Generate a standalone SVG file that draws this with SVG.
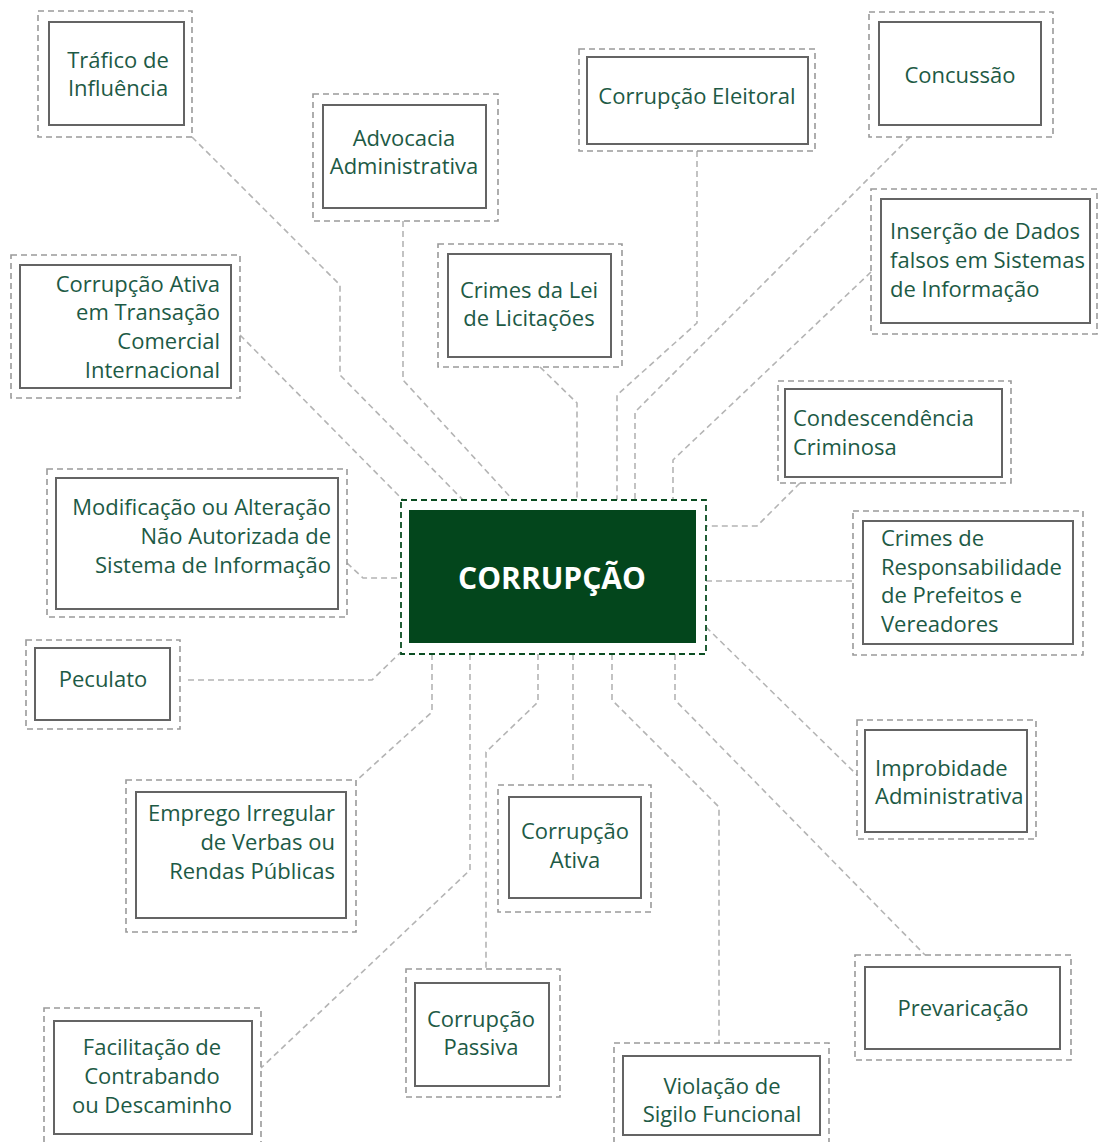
<svg xmlns="http://www.w3.org/2000/svg" width="1098" height="1142" viewBox="0 0 1098 1142">
<style>
.o{fill:none;stroke:#9a9a9a;stroke-width:1.6;stroke-dasharray:6 4}
.i{fill:#fff;stroke:#646464;stroke-width:2}
.t{font-family:"Open Sans","Noto Sans",sans-serif;font-size:22px;fill:#1d5a45}
.c{text-anchor:middle}
.r{text-anchor:end}
.l{fill:none;stroke:#b4b4b4;stroke-width:1.6;stroke-dasharray:6 4}
</style>
<rect width="1098" height="1142" fill="#fff"/>
<g id="connectors">
<polyline class="l" points="192,137 340,285 340,375 463,500"/>
<polyline class="l" points="240,335 403,500"/>
<polyline class="l" points="403,221 403,380 513,500"/>
<polyline class="l" points="540,367 577,403 577,500"/>
<polyline class="l" points="697,151 697,323 617,395 617,500"/>
<polyline class="l" points="910,137 635,412 635,500"/>
<polyline class="l" points="871,272 673,460 673,500"/>
<polyline class="l" points="800,483 757,526 706,526"/>
<polyline class="l" points="706,581 853,581"/>
<polyline class="l" points="347,563 363,578 401,578"/>
<polyline class="l" points="188,680 372,680 401,652"/>
<polyline class="l" points="432,654 432,712 357,780"/>
<polyline class="l" points="470,654 470,870 261,1068"/>
<polyline class="l" points="538,654 538,702 486,752 486,969"/>
<polyline class="l" points="573,654 573,785"/>
<polyline class="l" points="612,654 612,700 719,807 719,1043"/>
<polyline class="l" points="675,654 675,700 925,955"/>
<polyline class="l" points="706,627 857,775"/>
</g>
<g id="center">
<rect x="401" y="500" width="305" height="154" fill="#fff" stroke="#0b4d22" stroke-width="1.8" stroke-dasharray="6 4"/>
<rect x="409" y="510" width="287" height="133" fill="#03461c"/>
<text x="552" y="589" text-anchor="middle" font-family="'Open Sans','Noto Sans',sans-serif" font-size="30" font-weight="bold" fill="#fff">CORRUPÇÃO</text>
</g>
<g id="trafico">
<rect class="o" x="38" y="11" width="154" height="126"/>
<rect class="i" x="49" y="22" width="135" height="103"/>
<text class="t c" x="118" y="68">Tráfico de</text>
<text class="t c" x="118" y="96">Influência</text>
</g>
<g id="advocacia">
<rect class="o" x="313" y="94" width="185" height="127"/>
<rect class="i" x="323" y="105" width="163" height="103"/>
<text class="t c" x="404" y="146">Advocacia</text>
<text class="t c" x="404" y="174">Administrativa</text>
</g>
<g id="licitacoes">
<rect class="o" x="438" y="244" width="184" height="123"/>
<rect class="i" x="448" y="254" width="163" height="103"/>
<text class="t c" x="529" y="298">Crimes da Lei</text>
<text class="t c" x="529" y="326">de Licitações</text>
</g>
<g id="eleitoral">
<rect class="o" x="579" y="49" width="236" height="102"/>
<rect class="i" x="587" y="57" width="221" height="87"/>
<text class="t c" x="697" y="104">Corrupção Eleitoral</text>
</g>
<g id="concussao">
<rect class="o" x="869" y="12" width="184" height="125"/>
<rect class="i" x="879" y="22" width="162" height="103"/>
<text class="t c" x="960" y="83">Concussão</text>
</g>
<g id="insercao">
<rect class="o" x="871" y="189" width="226" height="145"/>
<rect class="i" x="881" y="199" width="209" height="124"/>
<text class="t" x="890" y="239">Inserção de Dados</text>
<text class="t" x="890" y="268">falsos em Sistemas</text>
<text class="t" x="890" y="297">de Informação</text>
</g>
<g id="transacao">
<rect class="o" x="11" y="255" width="229" height="143"/>
<rect class="i" x="20" y="265" width="211" height="123"/>
<text class="t r" x="220" y="292">Corrupção Ativa</text>
<text class="t r" x="220" y="320">em Transação</text>
<text class="t r" x="220" y="349">Comercial</text>
<text class="t r" x="220" y="378">Internacional</text>
</g>
<g id="modificacao">
<rect class="o" x="47" y="469" width="300" height="148"/>
<rect class="i" x="56" y="478" width="282" height="131"/>
<text class="t r" x="331" y="515">Modificação ou Alteração</text>
<text class="t r" x="331" y="544">Não Autorizada de</text>
<text class="t r" x="331" y="573">Sistema de Informação</text>
</g>
<g id="peculato">
<rect class="o" x="26" y="640" width="154" height="89"/>
<rect class="i" x="35" y="648" width="135" height="72"/>
<text class="t c" x="103" y="687">Peculato</text>
</g>
<g id="condescendencia">
<rect class="o" x="778" y="381" width="233" height="102"/>
<rect class="i" x="785" y="389" width="217" height="88"/>
<text class="t" x="793" y="426">Condescendência</text>
<text class="t" x="793" y="455">Criminosa</text>
</g>
<g id="responsabilidade">
<rect class="o" x="853" y="511" width="230" height="144"/>
<rect class="i" x="863" y="521" width="210" height="123"/>
<text class="t" x="881" y="546">Crimes de</text>
<text class="t" x="881" y="575">Responsabilidade</text>
<text class="t" x="881" y="603">de Prefeitos e</text>
<text class="t" x="881" y="632">Vereadores</text>
</g>
<g id="improbidade">
<rect class="o" x="857" y="720" width="179" height="119"/>
<rect class="i" x="865" y="730" width="162" height="102"/>
<text class="t" x="875" y="776">Improbidade</text>
<text class="t" x="875" y="804">Administrativa</text>
</g>
<g id="prevaricacao">
<rect class="o" x="855" y="955" width="216" height="105"/>
<rect class="i" x="865" y="967" width="195" height="82"/>
<text class="t c" x="963" y="1016">Prevaricação</text>
</g>
<g id="emprego">
<rect class="o" x="126" y="780" width="230" height="152"/>
<rect class="i" x="136" y="792" width="210" height="126"/>
<text class="t r" x="335" y="821">Emprego Irregular</text>
<text class="t r" x="335" y="850">de Verbas ou</text>
<text class="t r" x="335" y="879">Rendas Públicas</text>
</g>
<g id="ativa">
<rect class="o" x="498" y="785" width="153" height="127"/>
<rect class="i" x="509" y="797" width="132" height="101"/>
<text class="t c" x="575" y="839">Corrupção</text>
<text class="t c" x="575" y="868">Ativa</text>
</g>
<g id="passiva">
<rect class="o" x="406" y="969" width="154" height="128"/>
<rect class="i" x="415" y="983" width="134" height="103"/>
<text class="t c" x="481" y="1027">Corrupção</text>
<text class="t c" x="481" y="1055">Passiva</text>
</g>
<g id="violacao">
<rect class="o" x="614" y="1043" width="215" height="110"/>
<rect class="i" x="623" y="1056" width="197" height="79"/>
<text class="t c" x="722" y="1094">Violação de</text>
<text class="t c" x="722" y="1122">Sigilo Funcional</text>
</g>
<g id="facilitacao">
<rect class="o" x="44" y="1008" width="217" height="145"/>
<rect class="i" x="54" y="1021" width="198" height="113"/>
<text class="t c" x="152" y="1055">Facilitação de</text>
<text class="t c" x="152" y="1084">Contrabando</text>
<text class="t c" x="152" y="1113">ou Descaminho</text>
</g>
</svg>
